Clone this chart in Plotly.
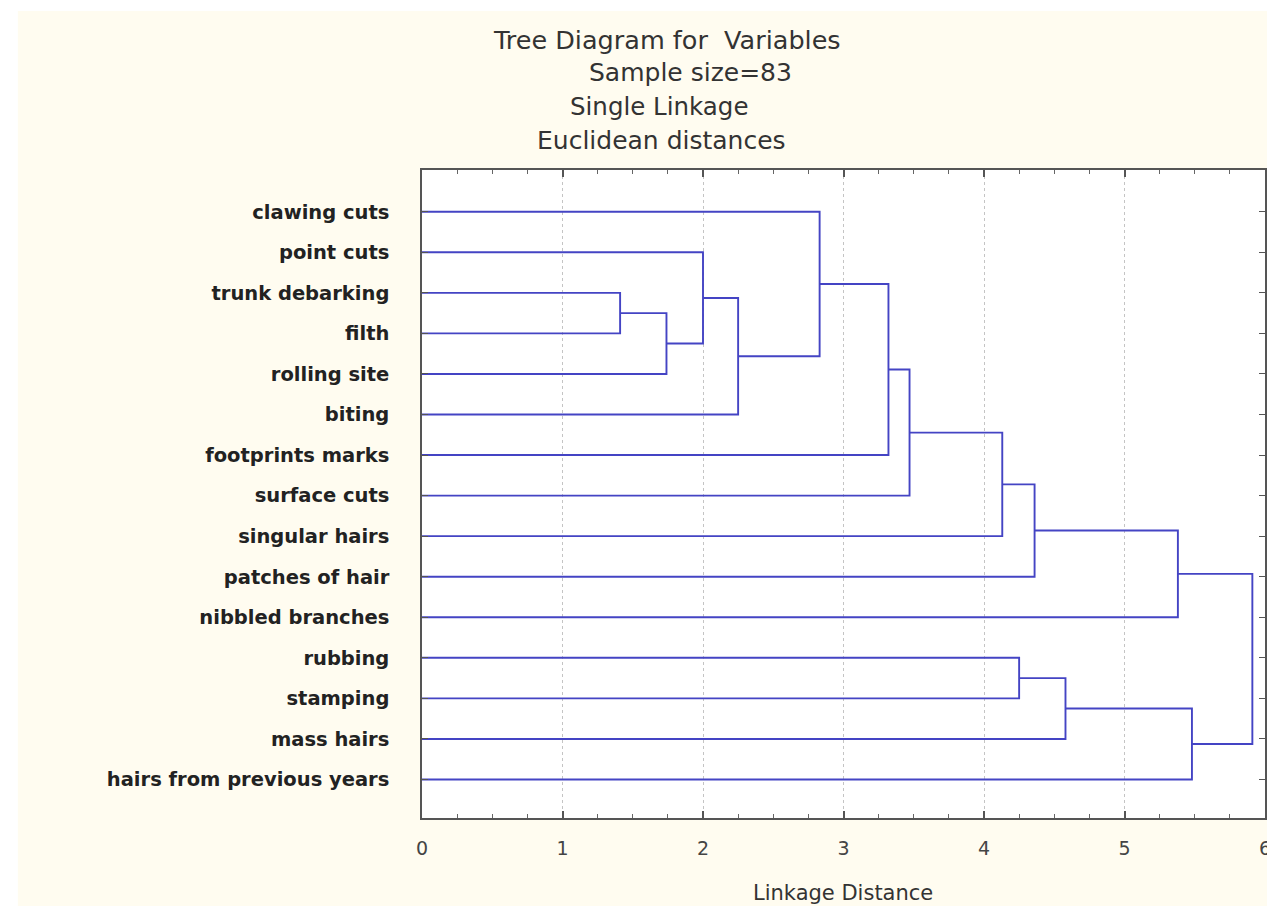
import plotly.graph_objects as go

# ---------------- data ----------------
leaf_labels = [
    "clawing cuts", "point cuts", "trunk debarking", "filth", "rolling site",
    "biting", "footprints marks", "surface cuts", "singular hairs",
    "patches of hair", "nibbled branches", "rubbing", "stamping",
    "mass hairs", "hairs from previous years",
]
# merges: (child a, child b, linkage distance); leaves are 0..14, node 15+k is merge k
merge_a = [2, 15, 1, 17, 0, 19, 20, 21, 22, 23, 11, 25, 26, 24]
merge_b = [3, 4, 16, 5, 18, 6, 7, 8, 9, 10, 12, 13, 14, 27]
merge_h = [1.41, 1.74, 2.00, 2.25, 2.83, 3.32, 3.47, 4.13, 4.36, 5.38,
           4.25, 4.58, 5.48, 5.91]
x_ticks = [0, 1, 2, 3, 4, 5, 6]
title_lines = ["Tree Diagram for  Variables", "Sample size=83",
               "Single Linkage", "Euclidean distances"]
x_title = "Linkage Distance"

# ---------------- build dendrogram segments ----------------
n = len(leaf_labels)
pos = {i: float(i) for i in range(n)}
hgt = {i: 0.0 for i in range(n)}
xs, ys = [], []
for k, (a, b, h) in enumerate(zip(merge_a, merge_b, merge_h)):
    node = n + k
    ya, yb = pos[a], pos[b]
    xs += [hgt[a], h, h, hgt[b], None]
    ys += [ya, ya, yb, yb, None]
    pos[node] = (ya + yb) / 2
    hgt[node] = h

fig = go.Figure()
fig.add_trace(go.Scatter(
    x=xs, y=ys, mode="lines",
    line=dict(color="#4444c4", width=1.9),
    hoverinfo="skip", showlegend=False,
))

# ---------------- layout geometry (page pixels; body margin 8px) ----------------
OFF = 8
W, H = 1275 - OFF, 906 - OFF
L, R, T, B = 422 - OFF, 1271 - OFF, 170 - OFF, 818 - OFF
pw, ph = R - L, B - T


def px_x(x):  # page pixel -> paper coord
    return (x - OFF - L) / pw


def px_y(y):
    return (B - (y - OFF)) / ph


fig.update_layout(
    width=W, height=H,
    margin=dict(l=L, r=W - R, t=T, b=H - B, pad=0),
    paper_bgcolor="#fffcf0",
    plot_bgcolor="#ffffff",
    showlegend=False,
    xaxis=dict(
        range=[0, 6],
        tickvals=x_ticks,
        ticktext=[str(v) for v in x_ticks],
        ticks="inside", ticklen=7, tickwidth=1.5, tickcolor="#555555",
        minor=dict(dtick=0.25, ticks="inside", ticklen=4, tickwidth=1,
                   tickcolor="#666666", showgrid=False),
        showline=True, linecolor="#555555", linewidth=1.5, mirror="ticks",
        showgrid=True, gridcolor="#c4c4c4", griddash="dot", gridwidth=1,
        zeroline=False,
        tickfont=dict(family="DejaVu Sans", size=19, color="#444444"),
        ticklabelstandoff=12,
        ticklabeloverflow="allow",
        fixedrange=True,
    ),
    yaxis=dict(
        range=[14.95, -1.03],
        tickvals=list(range(n)),
        ticktext=leaf_labels,
        ticks="inside", ticklen=6, tickwidth=1.2, tickcolor="#555555",
        showline=True, linecolor="#555555", linewidth=1.5, mirror="ticks",
        showgrid=False, zeroline=False,
        tickfont=dict(family="DejaVu Sans", size=19.5, color="#222222", weight="bold"),
        ticklabelstandoff=27,
        fixedrange=True,
    ),
)

# white strips at the top and left of the original image
fig.add_shape(type="rect", xref="paper", yref="paper",
              x0=px_x(-20), x1=px_x(1300), y0=px_y(11), y1=px_y(-20),
              fillcolor="#ffffff", line=dict(width=0), layer="above")
fig.add_shape(type="rect", xref="paper", yref="paper",
              x0=px_x(-20), x1=px_x(15), y0=px_y(930), y1=px_y(-20),
              fillcolor="#ffffff", line=dict(width=0), layer="above")

title_pos = [(669, 40, 25.5), (692, 72, 25), (661, 107, 24.5), (663, 140, 25)]
for text, (cx, cy, size) in zip(title_lines, title_pos):
    fig.add_annotation(
        text=text, xref="paper", yref="paper", x=px_x(cx), y=px_y(cy),
        xanchor="center", yanchor="middle", showarrow=False,
        font=dict(family="DejaVu Sans", size=size, color="#333333"),
    )

fig.add_annotation(
    text=x_title, xref="paper", yref="paper",
    x=px_x(846), y=px_y(893), xanchor="center", yanchor="middle",
    showarrow=False, font=dict(family="DejaVu Sans", size=21, color="#333333"),
)

fig.write_html("out.html")
